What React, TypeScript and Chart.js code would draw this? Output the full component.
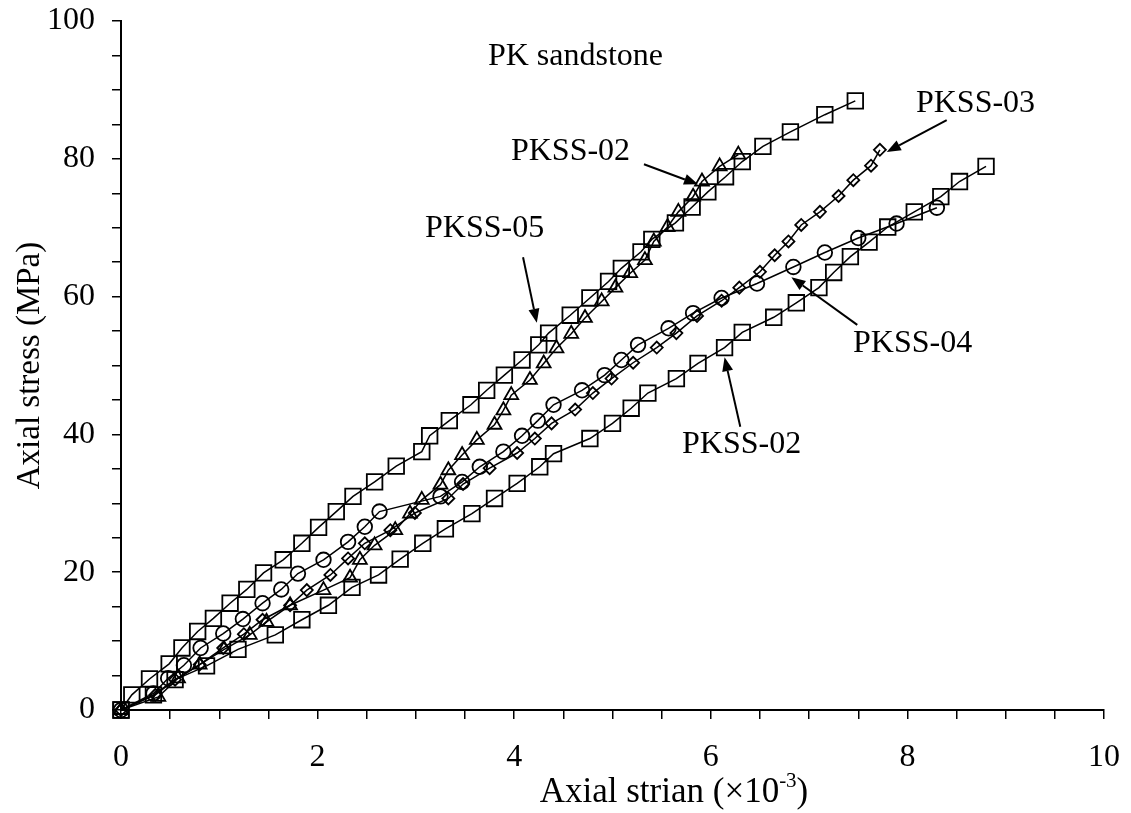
import React, { useEffect, useRef } from 'react';
import { Chart, registerables } from 'chart.js';

Chart.register(...registerables);

const FONT = "'Liberation Serif', 'Times New Roman', serif";

// PKSS-05 (squares, upper curve)
const pkss05X = [0, 0.11, 0.29, 0.49, 0.62, 0.78, 0.94, 1.11, 1.28, 1.45, 1.65, 1.84, 2.01, 2.19, 2.36, 2.58, 2.8, 3.06, 3.14, 3.34, 3.56, 3.72, 3.9, 4.08, 4.25, 4.35, 4.57, 4.77, 4.96, 5.09, 5.29, 5.4, 5.64, 5.81, 5.97, 6.15, 6.32, 6.53, 6.81, 7.16, 7.47];
const pkss05Y = [0, 2.2, 4.5, 6.7, 9.0, 11.4, 13.3, 15.5, 17.5, 19.9, 21.8, 24.2, 26.5, 28.8, 31.0, 33.1, 35.4, 37.5, 39.8, 42.0, 44.3, 46.4, 48.6, 50.8, 53.0, 54.7, 57.3, 59.8, 62.2, 64.1, 66.5, 68.3, 70.7, 73.0, 75.2, 77.4, 79.6, 81.8, 83.9, 86.4, 88.4];

// PKSS-02 (triangles)
const pkss02tX = [0, 0.38, 0.58, 0.8, 1.05, 1.31, 1.48, 1.72, 2.06, 2.33, 2.43, 2.58, 2.79, 2.94, 3.06, 3.25, 3.33, 3.47, 3.62, 3.8, 3.89, 3.97, 4.16, 4.3, 4.43, 4.58, 4.72, 4.89, 5.03, 5.18, 5.33, 5.42, 5.56, 5.67, 5.82, 5.91, 6.09, 6.28];
const pkss02tY = [0, 1.9, 4.6, 6.6, 8.8, 10.9, 12.8, 15.2, 17.4, 19.2, 21.8, 23.9, 26.1, 28.5, 30.5, 32.7, 34.8, 37.0, 39.2, 41.4, 43.5, 45.7, 47.9, 50.3, 52.5, 54.6, 56.9, 59.3, 61.3, 63.4, 65.3, 68.0, 70.1, 72.3, 74.5, 76.7, 78.9, 80.6];

// PKSS-03 (small diamonds)
const pkss03X = [0, 0.35, 0.55, 0.8, 1.04, 1.25, 1.44, 1.72, 1.89, 2.13, 2.31, 2.48, 2.74, 2.99, 3.33, 3.48, 3.75, 4.03, 4.21, 4.38, 4.62, 4.8, 4.99, 5.21, 5.45, 5.65, 5.86, 6.11, 6.29, 6.5, 6.65, 6.79, 6.92, 7.11, 7.3, 7.45, 7.63, 7.72];
const pkss03Y = [0, 2.2, 4.4, 6.6, 9.0, 11.0, 13.1, 15.2, 17.4, 19.6, 22.0, 24.2, 26.1, 28.6, 30.7, 32.8, 35.1, 37.3, 39.4, 41.6, 43.6, 46.0, 48.1, 50.4, 52.6, 54.7, 57.2, 59.4, 61.3, 63.6, 66.0, 68.0, 70.4, 72.3, 74.6, 76.9, 79.0, 81.3];

// PKSS-04 (circles)
const pkss04X = [0, 0.33, 0.48, 0.64, 0.81, 1.04, 1.24, 1.44, 1.63, 1.8, 2.06, 2.31, 2.48, 2.63, 3.25, 3.47, 3.65, 3.89, 4.08, 4.24, 4.4, 4.69, 4.92, 5.09, 5.26, 5.57, 5.82, 6.11, 6.47, 6.84, 7.16, 7.5, 7.89, 8.3];
const pkss04Y = [0, 2.4, 4.6, 6.5, 9.0, 11.1, 13.2, 15.5, 17.5, 19.8, 21.8, 24.4, 26.6, 28.8, 31.0, 33.1, 35.3, 37.5, 39.8, 42.0, 44.3, 46.4, 48.6, 50.8, 53.0, 55.4, 57.6, 59.8, 61.9, 64.3, 66.4, 68.5, 70.6, 72.9];

// PKSS-02 (squares, lower curve)
const pkss02sX = [0, 0.33, 0.55, 0.87, 1.19, 1.57, 1.84, 2.11, 2.35, 2.62, 2.84, 3.07, 3.3, 3.57, 3.8, 4.03, 4.26, 4.4, 4.77, 5.0, 5.19, 5.36, 5.65, 5.87, 6.14, 6.32, 6.64, 6.87, 7.1, 7.25, 7.42, 7.61, 7.8, 8.07, 8.34, 8.53, 8.8];
const pkss02sY = [0, 2.2, 4.4, 6.4, 8.8, 10.9, 13.1, 15.2, 17.8, 19.6, 21.9, 24.2, 26.3, 28.5, 30.7, 32.9, 35.3, 37.2, 39.4, 41.6, 43.8, 46.0, 48.1, 50.3, 52.6, 54.8, 57.0, 59.1, 61.3, 63.5, 65.8, 67.9, 70.1, 72.3, 74.5, 76.7, 78.9];

// text annotations (left / baseline in data units)
const labelTexts = ['PK sandstone', 'PKSS-02', 'PKSS-03', 'PKSS-04', 'PKSS-02', 'PKSS-05'];
const labelX = [3.733, 3.967, 8.087, 7.447, 5.707, 3.093];
const labelY = [93.6, 79.8, 86.8, 52.0, 37.3, 68.7];

// arrows (tail -> head, data units)
const arrowX1 = [5.32, 8.40, 7.49, 6.30, 4.09];
const arrowY1 = [79.2, 85.6, 55.9, 41.1, 65.7];
const arrowX2 = [5.87, 7.79, 6.82, 6.14, 4.23];
const arrowY2 = [76.3, 81.0, 62.8, 51.2, 56.2];

const toPts = (xs: number[], ys: number[]) => xs.map((x, i) => ({ x, y: ys[i] }));

const annotPlugin = {
  id: 'annot',
  afterDraw(chart: any) {
    const { ctx, chartArea } = chart;
    const xs = chart.scales.x;
    const ys = chart.scales.y;
    ctx.save();
    ctx.fillStyle = '#000';
    ctx.strokeStyle = '#000';
    ctx.font = `32px ${FONT}`;
    ctx.textAlign = 'left';
    ctx.textBaseline = 'alphabetic';
    labelTexts.forEach((t, i) => {
      ctx.fillText(t, xs.getPixelForValue(labelX[i]), ys.getPixelForValue(labelY[i]));
    });
    arrowX1.forEach((_, i) => {
      const x1 = xs.getPixelForValue(arrowX1[i]);
      const y1 = ys.getPixelForValue(arrowY1[i]);
      const x2 = xs.getPixelForValue(arrowX2[i]);
      const y2 = ys.getPixelForValue(arrowY2[i]);
      const ang = Math.atan2(y2 - y1, x2 - x1);
      const hl = 14;
      const hw = 5.5;
      const bx = x2 - Math.cos(ang) * hl;
      const by = y2 - Math.sin(ang) * hl;
      ctx.lineWidth = 2;
      ctx.beginPath();
      ctx.moveTo(x1, y1);
      ctx.lineTo(bx, by);
      ctx.stroke();
      ctx.beginPath();
      ctx.moveTo(x2, y2);
      ctx.lineTo(bx - Math.sin(ang) * hw, by + Math.cos(ang) * hw);
      ctx.lineTo(bx + Math.sin(ang) * hw, by - Math.cos(ang) * hw);
      ctx.closePath();
      ctx.fill();
    });
    // y axis title
    ctx.save();
    ctx.translate(chartArea.left - 91, (chartArea.top + chartArea.bottom) / 2);
    ctx.rotate(-Math.PI / 2);
    ctx.textAlign = 'center';
    ctx.textBaseline = 'middle';
    ctx.font = `33px ${FONT}`;
    ctx.fillText('Axial stress (MPa)', 0, 0);
    ctx.restore();
    // x axis title with superscript
    const main = 'Axial strian (\u00d710';
    const sup = '-3';
    const end = ')';
    ctx.font = `35px ${FONT}`;
    const w1 = ctx.measureText(main).width;
    ctx.font = `21px ${FONT}`;
    const w2 = ctx.measureText(sup).width;
    ctx.font = `35px ${FONT}`;
    const w3 = ctx.measureText(end).width;
    const total = w1 + w2 + w3;
    const cx = 674;
    const base = 802;
    let px = cx - total / 2;
    ctx.textAlign = 'left';
    ctx.textBaseline = 'alphabetic';
    ctx.fillText(main, px, base);
    px += w1;
    ctx.font = `21px ${FONT}`;
    ctx.fillText(sup, px, base - 15);
    px += w2;
    ctx.font = `35px ${FONT}`;
    ctx.fillText(end, px, base);
    ctx.restore();
  },
};

const zeroPad = (s: any) => {
  s.paddingTop = 0;
  s.paddingBottom = 0;
  s.paddingLeft = 0;
  s.paddingRight = 0;
};

export default function App() {
  const ref = useRef<HTMLCanvasElement>(null);
  useEffect(() => {
    if (!ref.current) return;
    const common = {
      showLine: true,
      borderColor: '#000',
      borderWidth: 1.5,
      pointBackgroundColor: 'rgba(0,0,0,0)',
      pointBorderColor: '#000',
      pointBorderWidth: 1.8,
      tension: 0,
      clip: false as any,
    };
    const chart = new Chart(ref.current, {
      type: 'scatter',
      data: {
        datasets: [
          { ...common, label: 'PKSS-05', data: toPts(pkss05X, pkss05Y), pointStyle: 'rect', pointRadius: 11 },
          { ...common, label: 'PKSS-02 (triangles)', data: toPts(pkss02tX, pkss02tY), pointStyle: 'triangle', pointRadius: 8 },
          { ...common, label: 'PKSS-03', data: toPts(pkss03X, pkss03Y), pointStyle: 'rectRot', pointRadius: 6 },
          { ...common, label: 'PKSS-04', data: toPts(pkss04X, pkss04Y), pointStyle: 'circle', pointRadius: 7.3 },
          { ...common, label: 'PKSS-02', data: toPts(pkss02sX, pkss02sY), pointStyle: 'rect', pointRadius: 11 },
        ] as any,
      },
      options: {
        animation: false,
        responsive: false,
        devicePixelRatio: 1,
        layout: { padding: { top: 21, right: 27, left: 0, bottom: 0 } },
        plugins: { legend: { display: false }, tooltip: { enabled: false }, title: { display: false } },
        events: [],
        scales: {
          x: {
            type: 'linear',
            min: 0,
            max: 10,
            afterFit: (s: any) => { s.height = 103; zeroPad(s); },
            ticks: {
              stepSize: 0.5,
              autoSkip: false,
              maxRotation: 0,
              padding: 19,
              color: '#000',
              font: { family: FONT, size: 32 },
              callback: (v: any) => (Math.abs(v % 2) < 1e-9 ? String(v) : ''),
            },
            grid: { drawOnChartArea: false, drawTicks: true, tickLength: 9, color: '#000', lineWidth: 1.5 },
            border: { display: true, color: '#000', width: 2 },
          },
          y: {
            type: 'linear',
            min: 0,
            max: 100,
            afterFit: (s: any) => { s.width = 121; zeroPad(s); },
            ticks: {
              stepSize: 5,
              autoSkip: false,
              padding: 17,
              color: '#000',
              font: { family: FONT, size: 32 },
              callback: (v: any) => (Math.abs(v % 20) < 1e-9 ? String(v) : ''),
            },
            grid: { drawOnChartArea: false, drawTicks: true, tickLength: 9, color: '#000', lineWidth: 1.5 },
            border: { display: true, color: '#000', width: 2 },
          },
        },
      } as any,
      plugins: [annotPlugin],
    });
    return () => chart.destroy();
  }, []);
  return (
    <div style={{ position: 'absolute', left: 0, top: 0, width: 1131, height: 813, background: '#fff' }}>
      <canvas ref={ref} width={1131} height={813} style={{ width: 1131, height: 813, display: 'block' }} />
    </div>
  );
}
